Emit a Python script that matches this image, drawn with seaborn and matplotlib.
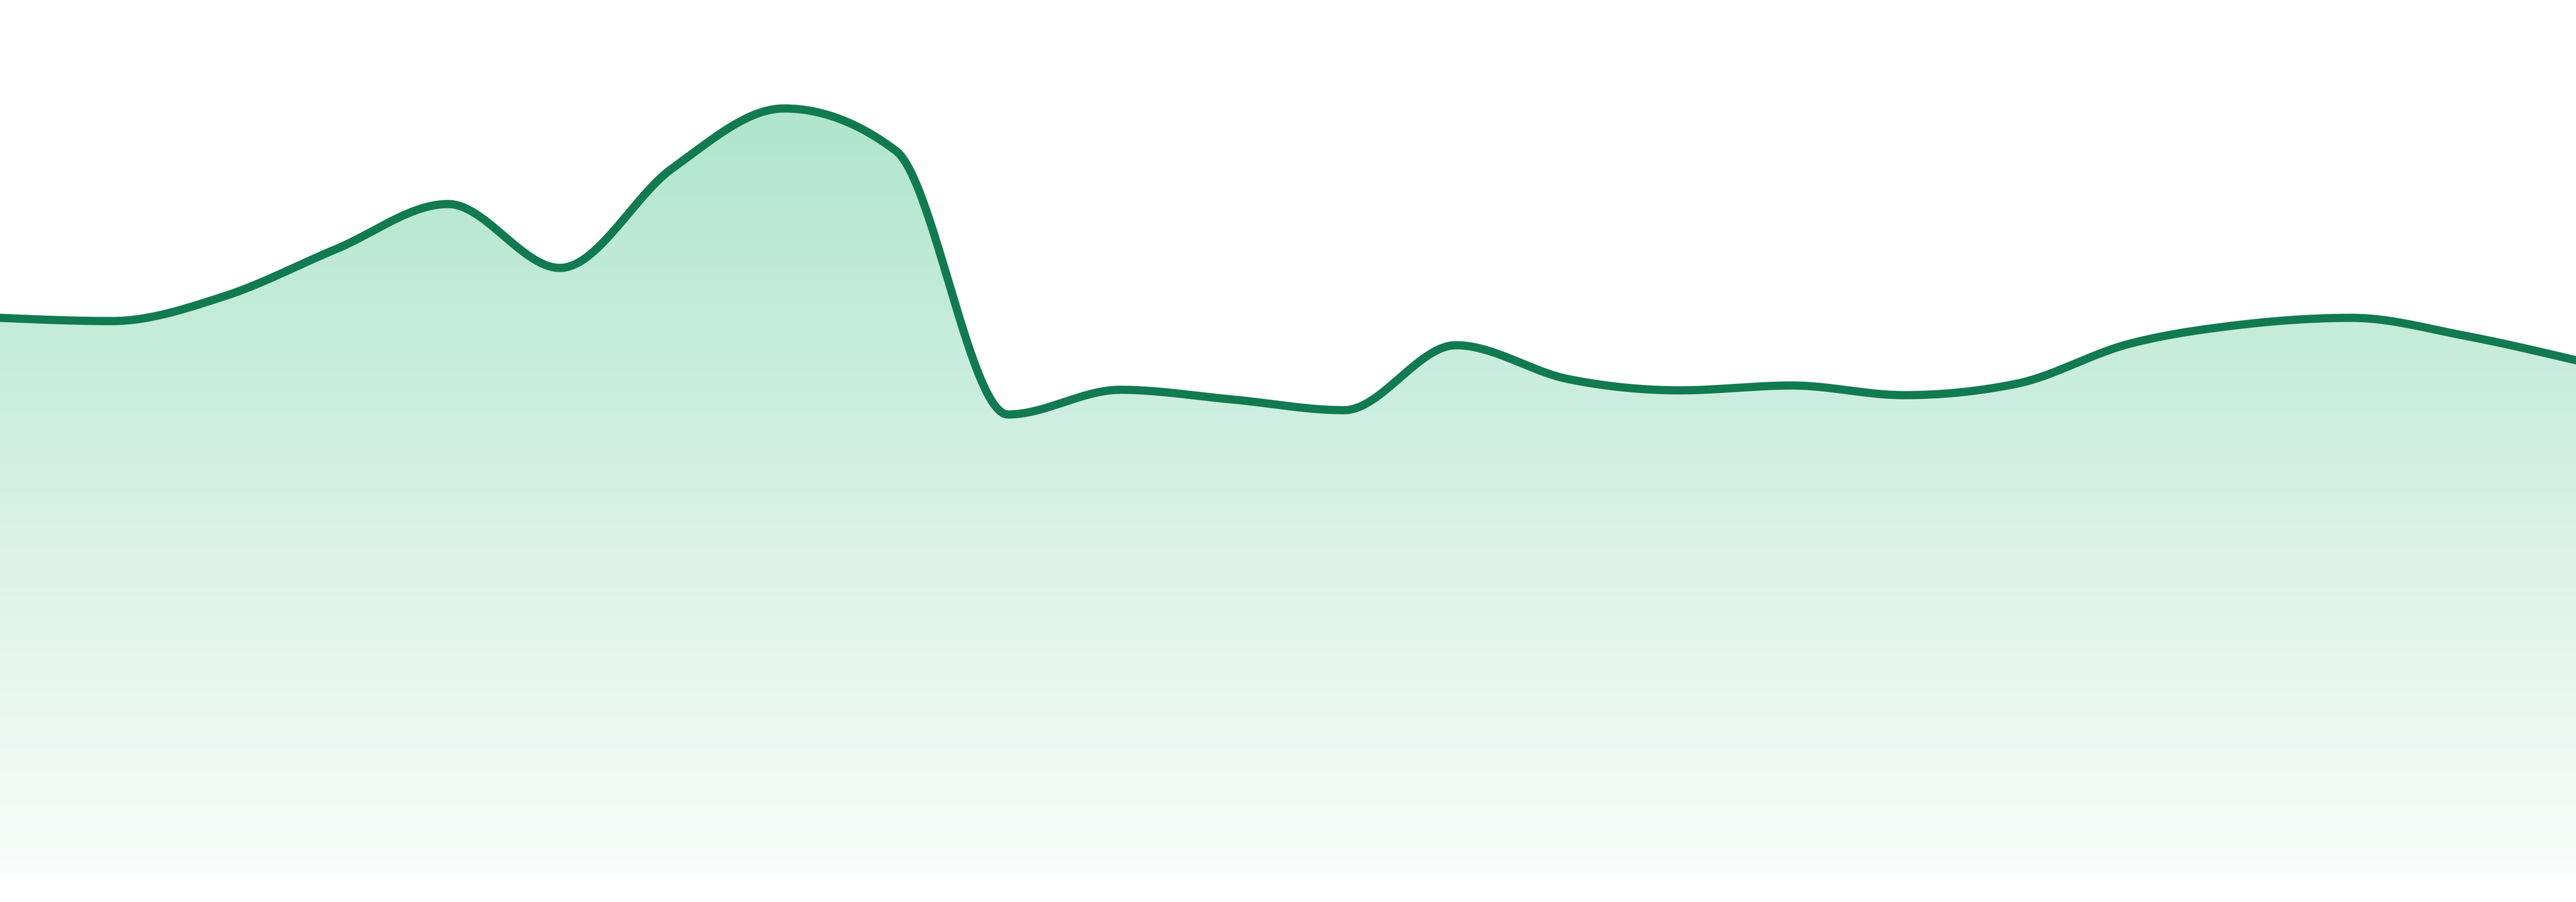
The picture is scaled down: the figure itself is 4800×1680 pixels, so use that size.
import numpy as np
import pandas as pd
import matplotlib
matplotlib.use("Agg")
import matplotlib.pyplot as plt
import seaborn as sns

# ---- data ----
positions = list(range(24))
values = [104.0, 103.4, 108.0, 116.8, 125.2, 113.3, 131.8, 143.0, 135.1, 86.0,
          90.6, 88.8, 86.8, 98.9, 92.6, 90.5, 91.4, 89.6, 91.7, 99.1,
          102.7, 104.0, 100.7, 96.1]

LINE_COLOR = "#117a51"
FILL_TOP = np.array([176, 229, 207]) / 255.0   # colour at value ~142
FILL_BOT = np.array([250, 253, 251]) / 255.0   # colour at value 0
Y_MIN, Y_MAX = -4.8, 163.2


def monotone_x(x, y, n=60):
    x = np.asarray(x, float)
    y = np.asarray(y, float)
    h = np.diff(x)
    s = np.diff(y) / h
    t = np.zeros(len(x))
    for i in range(1, len(x) - 1):
        p = (s[i - 1] * h[i] + s[i] * h[i - 1]) / (h[i - 1] + h[i])
        t[i] = (np.sign(s[i - 1]) + np.sign(s[i])) * min(abs(s[i - 1]), abs(s[i]), 0.5 * abs(p))
    t[0] = (3 * s[0] - t[1]) / 2
    t[-1] = (3 * s[-1] - t[-2]) / 2
    xs, ys = [], []
    for i in range(len(x) - 1):
        u = np.linspace(0, 1, n, endpoint=(i == len(x) - 2))
        h00 = 2 * u**3 - 3 * u**2 + 1
        h10 = u**3 - 2 * u**2 + u
        h01 = -2 * u**3 + 3 * u**2
        h11 = u**3 - u**2
        xs.append(x[i] + u * h[i])
        ys.append(h00 * y[i] + h10 * h[i] * t[i] + h01 * y[i + 1] + h11 * h[i] * t[i + 1])
    return np.concatenate(xs), np.concatenate(ys)


xd, yd = monotone_x(positions, values)
df = pd.DataFrame({"pos": xd, "val": yd})

sns.set_theme(style="white")
fig = plt.figure(figsize=(48, 16.8), dpi=100)
ax = fig.add_axes([0, 0, 1, 1])
ax.set_xlim(positions[0], positions[-1])
ax.set_ylim(Y_MIN, Y_MAX)
ax.axis("off")

# area with vertical gradient
poly = ax.fill_between(df["pos"], df["val"], 0, color="none", linewidth=0)
vv = np.linspace(Y_MIN, Y_MAX, 800)
frac = np.clip(vv / 142.2, 0, None)[:, None]
cols = FILL_BOT[None, :] + (FILL_TOP - FILL_BOT)[None, :] * frac
cols = np.clip(cols, 0, 1)
img = np.repeat(cols[:, None, :], 2, axis=1)
im = ax.imshow(img, extent=(positions[0], positions[-1], Y_MIN, Y_MAX),
               origin="lower", aspect="auto", interpolation="bilinear", zorder=1)
clip = poly.get_paths()[0]
im.set_clip_path(clip, transform=ax.transData)

sns.lineplot(data=df, x="pos", y="val", ax=ax, color=LINE_COLOR,
             linewidth=11, estimator=None, sort=False, zorder=3)
ax.set_xlim(positions[0], positions[-1])
ax.set_ylim(Y_MIN, Y_MAX)
ax.axis("off")

fig.savefig("out.png", dpi=100, facecolor="white")
